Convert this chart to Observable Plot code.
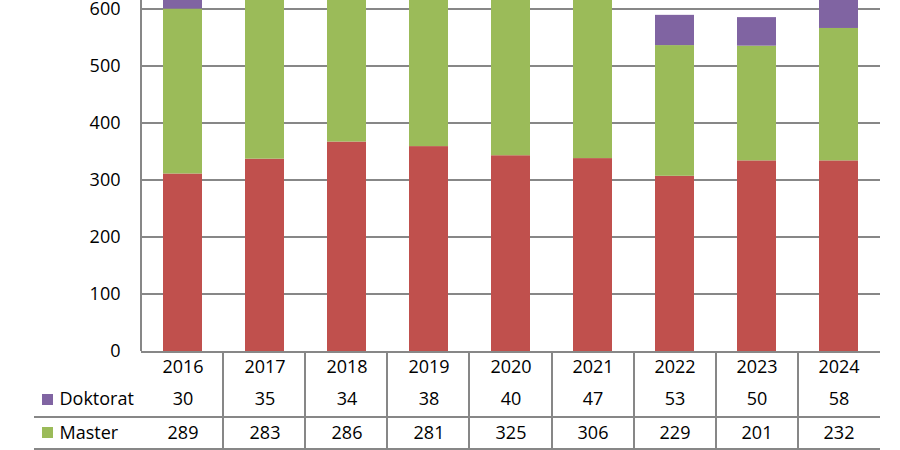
<!DOCTYPE html>
<html><head><meta charset="utf-8">
<script src="https://cdn.jsdelivr.net/npm/d3@7"></script>
<script src="https://cdn.jsdelivr.net/npm/@observablehq/plot@0.6"></script>
<style>body{margin:0;background:#fff;overflow:hidden}</style>
</head><body><div id="chart"></div>
<script>
const years = ["2016","2017","2018","2019","2020","2021","2022","2023","2024"];
const bachelor = [311,337,367,359,343,338,307,334,334];
const master = [289,283,286,281,325,306,229,201,232];
const doktorat = [30,35,34,38,40,47,53,50,58];
const seriesNames = ["Bachelor","Master","Doktorat"];
const seriesColors = ["#C0504D","#9BBB59","#8064A2"];
const yTicks = [0,100,200,300,400,500,600];
const tableRows = ["Doktorat","Master"];

const rows = [];
years.forEach((y,i)=>{
  rows.push({year:y, series:"Bachelor", value:bachelor[i]});
  rows.push({year:y, series:"Master", value:master[i]});
  rows.push({year:y, series:"Doktorat", value:doktorat[i]});
});

const gridColor = "#878787";
const font = "'Open Sans', sans-serif";

function tableGrid(index, scales, values, dims) {
  const {width, height, marginLeft, marginRight, marginBottom} = dims;
  const bottom = height - marginBottom;
  const right = width - marginRight;
  const step = (right - marginLeft) / years.length;
  const g = d3.create("svg:g").attr("stroke", gridColor).attr("stroke-width", 2).attr("shape-rendering","crispEdges");
  g.append("line").attr("x1", marginLeft).attr("x2", marginLeft).attr("y1", 0).attr("y2", bottom);
  for (let i = 1; i < years.length; i++) {
    const x = Math.round(marginLeft + i * step);
    g.append("line").attr("x1", x).attr("x2", x).attr("y1", bottom).attr("y2", height);
  }
  [66, 98].forEach(dy => {
    g.append("line").attr("x1", 34).attr("x2", right).attr("y1", bottom + dy).attr("y2", bottom + dy);
  });
  const sw = d3.create("svg:g");
  sw.append("rect").attr("x", 42).attr("y", bottom + 43).attr("width", 11).attr("height", 11).attr("fill", seriesColors[2]);
  sw.append("rect").attr("x", 42).attr("y", bottom + 76).attr("width", 11).attr("height", 11).attr("fill", seriesColors[1]);
  const wrap = d3.create("svg:g");
  wrap.append(() => g.node());
  wrap.append(() => sw.node());
  return wrap.node();
}

const txt = {fill: "#000", lineAnchor: "middle", fontSize: 18};

const plot = Plot.plot({
  width: 900, height: 450,
  marginTop: 0, marginLeft: 141, marginRight: 20, marginBottom: 99,
  style: {fontFamily: font, fontSize: "18px", color: "#000", background: "#fff", overflow: "hidden"},
  x: {domain: years, paddingInner: 0.525, paddingOuter: 0.2625, axis: null},
  y: {domain: [0, 615], axis: null},
  color: {domain: seriesNames, range: seriesColors},
  marks: [
    Plot.ruleY(yTicks, {stroke: gridColor, strokeWidth: 2, shapeRendering: "crispEdges"}),
    Plot.barY(rows, {x: "year", y: "value", fill: "series", order: seriesNames}),
    tableGrid,
    Plot.text(yTicks, {...txt, y: d => d, text: d => String(d), frameAnchor: "left", textAnchor: "end", dx: -21}),
    Plot.text(years, {...txt, x: d => d, text: d => d, frameAnchor: "bottom", dy: 16}),
    Plot.text(years, {...txt, x: d => d, text: (d, i) => String(doktorat[i]), frameAnchor: "bottom", dy: 48}),
    Plot.text(years, {...txt, x: d => d, text: (d, i) => String(master[i]), frameAnchor: "bottom", dy: 82}),
    Plot.text([tableRows[0]], {...txt, text: d => d, frameAnchor: "bottom-left", textAnchor: "start", dx: -82, dy: 48}),
    Plot.text([tableRows[1]], {...txt, text: d => d, frameAnchor: "bottom-left", textAnchor: "start", dx: -82, dy: 82})
  ]
});
document.getElementById("chart").append(plot);
</script></body></html>
